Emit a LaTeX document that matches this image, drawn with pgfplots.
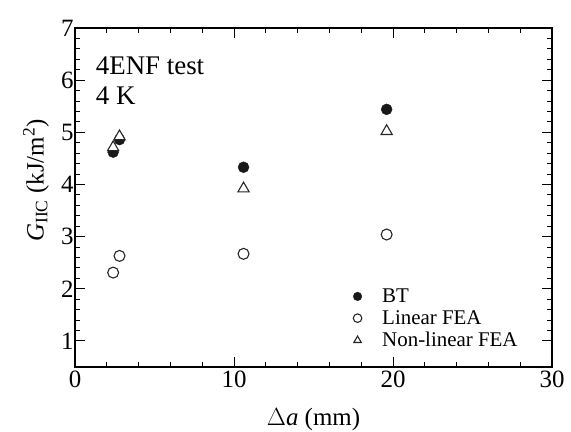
\documentclass[border=0pt]{standalone}
\usepackage{fontspec}
\setmainfont{Liberation Serif}
\usepackage{pgfplots}
\pgfplotsset{compat=1.18}

\begin{document}
\begin{tikzpicture}
\begin{axis}[
    name=ax,
    scale only axis,
    width=477bp, height=339bp,
    xmin=0, xmax=30, ymin=0.5, ymax=7,
    xtick={0,10,20,30}, ytick={1,2,3,4,5,6,7},
    minor x tick num=4, minor y tick num=4,
    tick align=inside, ticks=both,
    major tick length=10bp, minor tick length=5bp,
    axis line style={line width=1.3pt},
    every tick/.style={black, line width=1pt},
    /pgf/number format/assume math mode=true,
    tick label style={font=\fontsize{25}{28}\selectfont},
    yticklabel style={xshift=2bp},
    every axis x label/.style={at={([yshift=-53bp]rel axis cs:0.5,0)}, anchor=center},
    every axis y label/.style={at={([xshift=-39bp]rel axis cs:0,0.55)}, anchor=center, rotate=90},
    xlabel={\fontsize{25}{28}\selectfont $\Delta$\textit{a} (mm)},
    ylabel={\fontsize{25}{28}\selectfont \textit{G}\textsubscript{IIC} (kJ/m\textsuperscript{2})},
    legend style={at={(0.575,0.24)}, anchor=north west, draw=none, fill=none,
        font=\fontsize{21}{22}\selectfont, row sep=2.5bp, inner sep=1bp},
    legend cell align=left,
    legend image code/.code={\draw[#1] plot[only marks] coordinates {(0.25cm,0cm)}; \path[draw=none] (0cm,0cm) (1.05cm,0cm);},
    legend image post style={mark size=4.3pt},
]
\addplot[only marks, mark=*, mark size=5.5pt, black!90] coordinates {
    (2.4,4.62) (2.8,4.86) (10.6,4.33) (19.6,5.44)};
\addlegendentry{BT}
\addplot[only marks, mark=o, mark size=5.5pt, black!85, mark options={line width=1.1pt}] coordinates {
    (2.4,2.31) (2.8,2.63) (10.6,2.67) (19.6,3.04)};
\addlegendentry{Linear FEA}
\addplot[only marks, mark=triangle*, mark size=6.5pt, black!85, mark options={line width=1.1pt, fill=white}] coordinates {
    (2.4,4.71) (2.8,4.92) (10.6,3.92) (19.6,5.02)};
\addlegendentry{Non-linear FEA}
\node[anchor=north west, align=left, inner sep=0pt, font=\fontsize{27}{30}\selectfont]
    at (axis cs:1.3,6.45) {4ENF test\\4 K};
\end{axis}
\pgfresetboundingbox
\path[use as bounding box] ([shift={(-75bp,-65bp)}]ax.south west) rectangle ([shift={(19bp,28bp)}]ax.north east);
\end{tikzpicture}
\end{document}
